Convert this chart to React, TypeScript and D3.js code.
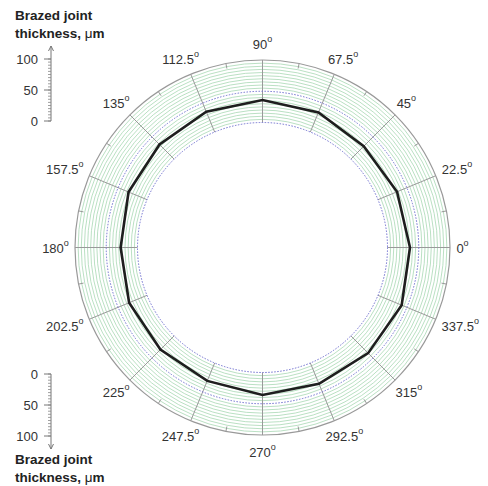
import React from 'react';
import * as d3 from 'd3';

// angles in degrees, counter-clockwise from 3 o'clock
const angles = [0, 22.5, 45, 67.5, 90, 112.5, 135, 157.5, 180, 202.5, 225, 247.5, 270, 292.5, 315, 337.5];
// brazed joint thickness, µm
const thickness = [36, 33, 29, 34, 36, 35, 33, 32, 27, 31, 31, 31, 36, 36, 39, 41];
const angleLabels = ['0', '22.5', '45', '67.5', '90', '112.5', '135', '157.5', '180', '202.5', '225', '247.5', '270', '292.5', '315', '337.5'];
const scaleTicks = [0, 50, 100];

const W = 488, H = 486;
const cx = 262.5, cy = 247.5;
const font = 'Liberation Sans, Arial, sans-serif';

const r = d3.scaleLinear().domain([0, 100]).range([125, 187.5]);
const rad = (deg: number) => (deg * Math.PI) / 180;
const px = (deg: number, rr: number) => cx + rr * Math.cos(rad(deg));
const py = (deg: number, rr: number) => cy - rr * Math.sin(rad(deg));

const ringValues = d3.range(5, 100, 5).filter((v) => v !== 50);
const minorAngles = d3.range(11.25, 360, 22.5);

const Scale: React.FC<{ y0: number; dir: number; titleY: number }> = ({ y0, dir, titleY }) => {
  const x = 51;
  const s = d3.scaleLinear().domain([0, 100]).range([y0, y0 + dir * 62]);
  const minor = d3.range(0, 101, 5);
  const tipY = s(100) + dir * 13;
  return (
    <g>
      <line x1={x} x2={x} y1={s(0)} y2={tipY} stroke="#777" strokeWidth={1} />
      <path d={`M${x - 2.5},${tipY - dir * 5}L${x},${tipY}L${x + 2.5},${tipY - dir * 5}`} fill="none" stroke="#777" strokeWidth={1} />
      {minor.map((v) => (
        <line key={v} x1={x - 3} x2={x} y1={s(v)} y2={s(v)} stroke="#888" strokeWidth={0.8} />
      ))}
      {scaleTicks.map((v) => (
        <g key={v}>
          <line x1={x - 7} x2={x} y1={s(v)} y2={s(v)} stroke="#777" strokeWidth={1} />
          <text x={38} y={s(v) + 5} textAnchor="end" fontSize={13} fill="#333" fontFamily={font}>{v}</text>
        </g>
      ))}
      <text x={15} y={titleY} fontSize={13.5} fontWeight="bold" fill="#222" fontFamily={font}>Brazed joint</text>
      <text x={15} y={titleY + 18} fontSize={13.5} fill="#222" fontFamily={font}>
        <tspan fontWeight="bold">thickness, </tspan>
        <tspan>μ</tspan>
        <tspan fontWeight="bold">m</tspan>
      </text>
    </g>
  );
};

export default function App() {
  const line = d3
    .lineRadial<number>()
    .angle((_, i) => Math.PI / 2 - rad(angles[i]))
    .radius((d) => r(d))
    .curve(d3.curveLinearClosed);

  return (
    <svg width={W} height={H} style={{ position: 'absolute', left: 0, top: 0, background: '#fff' }}>
      {ringValues.map((v) => (
        <circle key={v} cx={cx} cy={cy} r={r(v)} fill="none" stroke="#a8d8b4" strokeWidth={0.8} />
      ))}
      {angles.map((a) => (
        <line key={a} x1={px(a, r(0))} y1={py(a, r(0))} x2={px(a, r(100))} y2={py(a, r(100))} stroke="#999" strokeWidth={1} />
      ))}
      {minorAngles.map((a) => (
        <line key={a} x1={px(a, r(100) - 5)} y1={py(a, r(100) - 5)} x2={px(a, r(100))} y2={py(a, r(100))} stroke="#999" strokeWidth={1} />
      ))}
      {[0, 50].map((v) => (
        <circle key={v} cx={cx} cy={cy} r={r(v)} fill="none" stroke="#7070d0" strokeWidth={1} strokeDasharray="1.5,1.5" />
      ))}
      <circle cx={cx} cy={cy} r={r(100)} fill="none" stroke="#999" strokeWidth={1.2} />
      <path d={line(thickness) ?? ''} transform={`translate(${cx},${cy})`} fill="none" stroke="#1e1e1e" strokeWidth={2.6} strokeLinejoin="miter" />
      {angles.map((a, i) => {
        const c = Math.cos(rad(a)), s = Math.sin(rad(a));
        const w = angleLabels[i].length * 7 + 5;
        const lx = cx + 194 * c + (w / 2) * c;
        const ly = cy - 198 * s - 6 * s;
        return (
          <text key={a} x={lx} y={ly + 5} textAnchor="middle" fontSize={13} fill="#333" fontFamily={font}>
            {angleLabels[i]}
            <tspan fontSize={9} dy={-7}>o</tspan>
          </text>
        );
      })}
      <Scale y0={121} dir={-1} titleY={20} />
      <Scale y0={374} dir={1} titleY={464} />
    </svg>
  );
}
